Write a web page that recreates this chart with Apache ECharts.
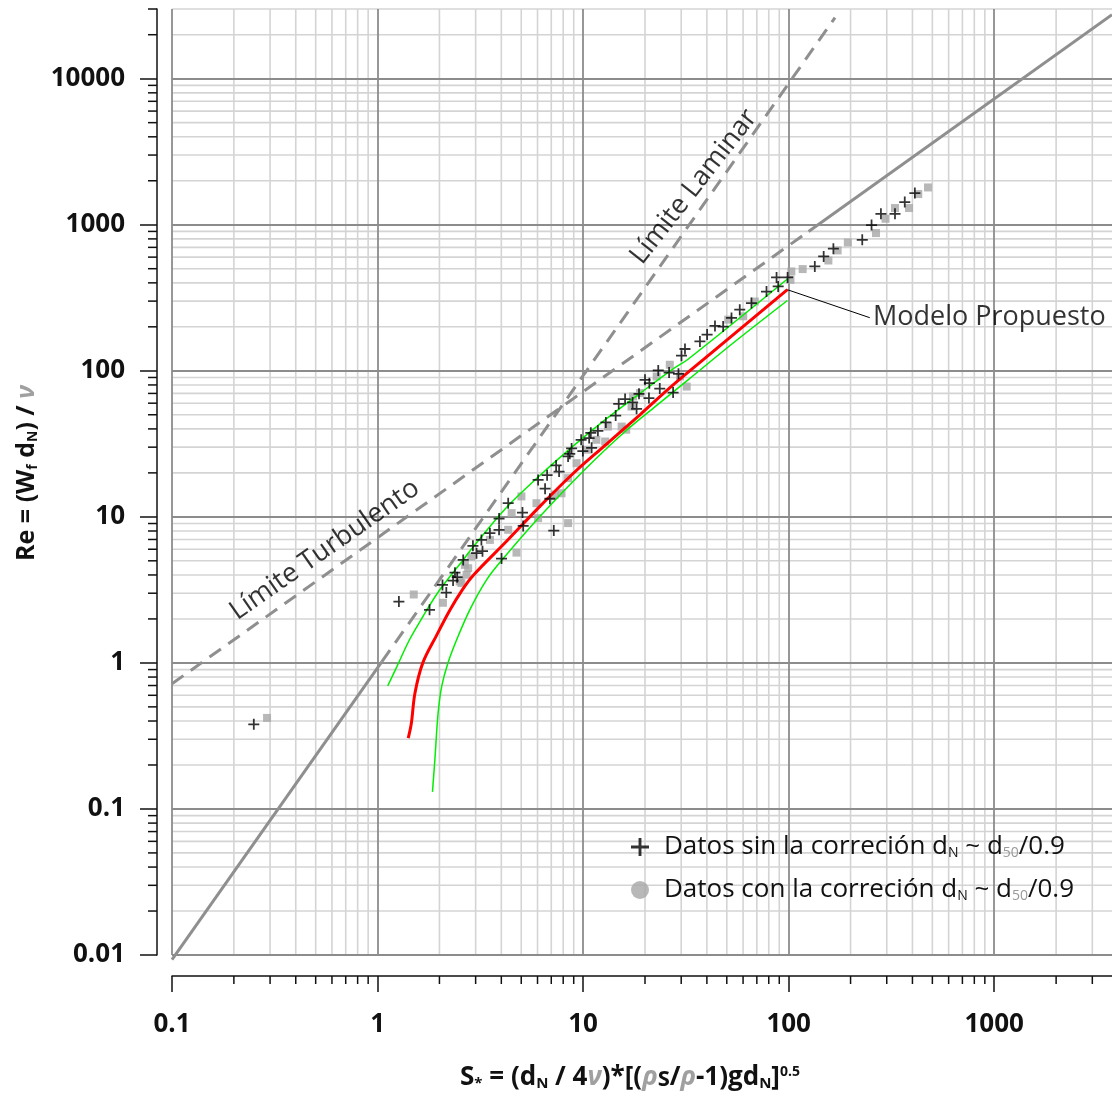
<!DOCTYPE html>
<html>
<head>
<meta charset="utf-8">
<script src="https://cdn.jsdelivr.net/npm/echarts@6/dist/echarts.min.js"></script>
<style>
  html, body { margin: 0; padding: 0; background: #fff; }
  #chart { width: 1112px; height: 1099px; }
</style>
</head>
<body>
<div id="chart"></div>
<script>
// axis ranges and tick labels
const xMin = 0.1, xMax = 3740;
const yMin = 0.01, yMax = 30000;
const xTickLabels = ['0.1', '1', '10', '100', '1000'];
const yTickLabels = ['0.01', '0.1', '1', '10', '100', '1000', '10000'];
const minorSteps = [2, 3, 4, 5, 6, 7, 8, 9];

// Datos sin la correción (+)
const sinData = [
  [0.25, 0.38], [1.27, 2.63], [1.79, 2.31], [2.07, 3.42], [2.16, 3.03], [2.33, 3.66], [2.38, 4.15],
  [2.44, 3.86], [2.61, 5.07], [2.91, 6.33], [3.03, 5.64], [3.24, 5.82], [3.20, 6.95], [3.52, 7.73],
  [3.90, 8.15], [3.90, 9.73], [4.32, 12.4], [4.01, 5.18], [5.11, 8.67], [5.07, 10.7], [7.20, 8.06],
  [6.89, 13.3], [6.53, 15.6], [6.04, 17.9], [6.68, 19.3], [7.39, 22.5], [7.64, 20.4], [8.45, 25.9],
  [8.79, 29.4], [8.61, 27.0], [9.78, 33.7], [9.97, 28.2], [10.7, 34.6], [10.9, 37.6], [11.0, 29.7],
  [11.8, 38.8], [12.9, 44.3], [14.4, 49.4], [14.9, 59.4], [16.0, 64.0], [17.4, 60.7], [18.2, 54.9],
  [18.7, 69.5], [20.0, 86.7], [21.0, 82.3], [20.9, 65.0], [23.2, 100.5], [23.6, 75.6], [26.2, 97.3],
  [27.4, 71.0], [29.1, 95.3], [30.1, 127], [31.3, 141], [37.0, 159], [40.1, 177], [43.8, 203],
  [48.0, 201], [52.7, 230], [57.8, 262], [65.9, 291], [78.0, 349], [88.9, 378], [87.3, 436],
  [98.8, 436], [134, 518], [148, 607], [165, 685], [228, 789], [253, 995], [281, 1189], [329, 1189],
  [367, 1430], [411, 1648]
];

// Datos con la correción (gray squares)
const conData = [
  [0.29, 0.42], [1.50, 2.94], [2.08, 2.58], [2.56, 3.52], [2.51, 3.61], [2.71, 4.01], [2.76, 4.45],
  [2.66, 4.69], [2.86, 5.35], [3.52, 6.95], [4.32, 8.15], [4.74, 5.69], [4.49, 10.6], [5.01, 13.8],
  [5.93, 12.4], [6.04, 9.8], [8.45, 9.06], [7.28, 14.2], [7.85, 14.5], [8.45, 18.4], [9.29, 23.3],
  [10.4, 28.8], [11.6, 33.7], [12.8, 32.8], [13.2, 41.5], [15.4, 41.5], [16.2, 39.5], [17.2, 56.9],
  [17.5, 66.7], [18.9, 70.4], [22.8, 91.4], [26.4, 110], [29.6, 91.4], [31.9, 78.0], [50.8, 224],
  [60.1, 236], [68.4, 298], [102, 420], [103, 479], [117, 497], [156, 569], [173, 667], [194, 756],
  [266, 877], [296, 1099], [329, 1301], [385, 1301], [427, 1622], [476, 1800]
];

// Modelo propuesto (red) and its band (green)
const modelCurve = [
  [1.41, 0.305], [1.46, 0.386], [1.52, 0.62], [1.66, 1.0], [1.94, 1.55], [2.25, 2.3], [2.56, 3.1],
  [2.91, 3.95], [4.24, 6.8], [6.16, 11.8], [8.94, 19.8], [13.0, 31.5], [18.9, 50], [27.4, 80],
  [41.4, 130], [98.6, 359]
];
const upperBand = [
  [1.12, 0.695], [1.24, 0.94], [1.43, 1.44], [1.66, 2.07], [1.94, 2.95], [2.25, 3.9], [2.61, 5.07],
  [2.91, 6.2], [4.24, 11.6], [6.16, 19.2], [8.94, 30.5], [13.0, 47], [18.9, 70], [27.4, 103],
  [32.4, 120], [98.6, 425]
];
const lowerBand = [
  [1.85, 0.131], [1.90, 0.217], [1.97, 0.452], [2.05, 0.689], [2.20, 1.0], [2.46, 1.51], [2.81, 2.31],
  [3.39, 3.70], [4.0, 5.0], [6.16, 10.05], [10.0, 20.5], [15.7, 37.5], [22.8, 58.0], [32.4, 86.7],
  [53.7, 155], [98.6, 303]
];

// limit lines
const laminarSolid = [[0.1, 0.0093], [1.05, 1.02]];
const laminarDashed = [[1.05, 1.02], [168, 26200]];
const turbulentDashed = [[0.1, 0.72], [125, 900]];
const turbulentSolid = [[125, 900], [3740, 27400]];
const modelLeader = [[98.6, 359], [248, 231]];

const annotations = [
  { text: 'Límite Turbulento', x: 0.553, y: 5.94, angle: 35, align: 'center' },
  { text: 'Límite Laminar', x: 34.6, y: 1820, angle: 52, align: 'center' },
  { text: 'Modelo Propuesto', x: 257, y: 231, angle: 0, align: 'left' }
];

const sinName = 'Datos sin la correción dN ~ d50/0.9';
const conName = 'Datos con la correción dN ~ d50/0.9';

const xMinorValues = [];
xTickLabels.forEach(d => minorSteps.forEach(m => { const v = +d * m; if (v < xMax) xMinorValues.push(v); }));
const yMinorValues = [];
yTickLabels.forEach(d => minorSteps.forEach(m => { const v = +d * m; if (v <= yMax) yMinorValues.push(v); }));

const FONT = '"Open Sans", "Liberation Sans", sans-serif';
const plusPath = 'path://M4.2,0h1.6v4.2h4.2v1.6h-4.2v4.2h-1.6v-4.2h-4.2v-1.6h4.2z';

function tickFormatter(labels) {
  return v => {
    const l = labels.find(t => Math.abs(Math.log10(+t) - Math.log10(v)) < 1e-6);
    return l || '';
  };
}

function minorSeries(dir) {
  const vals = dir === 'x' ? xMinorValues : yMinorValues;
  return {
    type: 'custom',
    silent: true,
    clip: false,
    z: -1,
    data: vals.map(v => dir === 'x' ? [v, yMin] : [xMin, v]),
    renderItem(params, api) {
      const grid = '#d4d4d4';
      if (dir === 'x') {
        const v = api.value(0);
        const b = api.coord([v, yMin]);
        const t = api.coord([v, yMax]);
        return { type: 'group', children: [
          { type: 'line', shape: { x1: b[0], y1: t[1], x2: b[0], y2: b[1] }, style: { stroke: grid, lineWidth: 1.6 } },
          { type: 'line', shape: { x1: b[0], y1: b[1] + 21, x2: b[0], y2: b[1] + 29 }, style: { stroke: '#111', lineWidth: 1.5 } }
        ] };
      }
      const v = api.value(1);
      const l = api.coord([xMin, v]);
      const r = api.coord([xMax, v]);
      return { type: 'group', children: [
        { type: 'line', shape: { x1: l[0], y1: l[1], x2: r[0], y2: l[1] }, style: { stroke: grid, lineWidth: 1.6 } },
        { type: 'line', shape: { x1: l[0] - 15, y1: l[1], x2: l[0] - 24, y2: l[1] }, style: { stroke: '#111', lineWidth: 1.5 } }
      ] };
    }
  };
}

function limitLine(data, dashed) {
  return {
    type: 'line', data, symbol: 'none', clip: false, silent: true, z: 2,
    lineStyle: { color: '#8f8f8f', width: 3, type: dashed ? [14, 9] : 'solid' }
  };
}

function curve(data, color, width) {
  return {
    type: 'line', data, symbol: 'none', smooth: 0.35, z: 4, silent: true,
    lineStyle: { color, width }
  };
}

const subStyle = { lineHeight: 12, padding: [11, 0, 0, 0], verticalAlign: 'bottom' };

const chart = echarts.init(document.getElementById('chart'));
chart.setOption({
  backgroundColor: '#fff',
  animation: false,
  textStyle: { fontFamily: FONT },
  grid: { left: 172, right: 0, top: 9, bottom: 144, containLabel: false },
  legend: {
    orient: 'vertical',
    left: 626,
    top: 829,
    itemWidth: 26,
    itemHeight: 18,
    itemGap: 17,
    data: [
      { name: sinName, icon: plusPath, itemStyle: { color: '#000' } },
      { name: conName, icon: 'circle', itemStyle: { color: '#a6a6a6' } }
    ],
    formatter: name => name === sinName
      ? 'Datos sin la correción d{sub|N} ~ d{gsub|50}/0.9'
      : 'Datos con la correción d{sub|N} ~ d{gsub|50}/0.9',
    textStyle: {
      fontFamily: FONT, fontSize: 26, color: '#111', padding: [0, 0, 0, 6],
      rich: {
        sub: Object.assign({}, subStyle, { fontFamily: FONT, color: '#111', fontSize: 14 }),
        gsub: Object.assign({}, subStyle, { fontFamily: FONT, color: '#999', fontSize: 14 })
      }
    }
  },
  xAxis: {
    type: 'log',
    logBase: 10,
    min: xMin,
    max: xMax,
    offset: 21,
    z: 1,
    axisLine: { show: true, lineStyle: { color: '#111', width: 1.5 } },
    axisTick: { show: true, inside: false, length: 16, lineStyle: { color: '#111', width: 1.5 } },
    minorTick: { show: false },
    axisLabel: {
      margin: 36, fontFamily: FONT, fontWeight: 'bold', fontSize: 26, color: '#111',
      formatter: tickFormatter(xTickLabels), showMaxLabel: false
    },
    splitLine: { show: true, showMaxLine: false, lineStyle: { color: '#8c8c8c', width: 1.8 } },
    name: 'S{sub|*} = (d{sub|N} / 4{g|ν})*[({g|ρ}{s|S}/{g|ρ}-1)gd{sub|N}]{sup|0.5}',
    nameLocation: 'middle',
    nameGap: 89,
    nameTextStyle: {
      fontFamily: FONT, fontWeight: 'bold', fontSize: 26, color: '#111', padding: [0, 24, 0, 0],
      rich: {
        sub: Object.assign({}, subStyle, { fontFamily: FONT, fontWeight: 'bold', color: '#111', fontSize: 15 }),
        s: { fontFamily: FONT, fontWeight: 'bold', color: '#111', fontSize: 22, lineHeight: 22, padding: [5, 0, 0, 0], verticalAlign: 'bottom' },
        sup: { fontFamily: FONT, fontWeight: 'bold', color: '#111', fontSize: 14, lineHeight: 14, padding: [0, 0, 12, 0], verticalAlign: 'top' },
        g: { fontFamily: FONT, fontStyle: 'italic', color: '#a0a0a0', fontSize: 26 }
      }
    }
  },
  yAxis: {
    type: 'log',
    logBase: 10,
    min: yMin,
    max: yMax,
    offset: 15,
    z: 1,
    axisLine: { show: true, lineStyle: { color: '#111', width: 1.5 } },
    axisTick: { show: true, inside: false, length: 17, lineStyle: { color: '#111', width: 1.5 } },
    minorTick: { show: false },
    axisLabel: {
      margin: 32, fontFamily: FONT, fontWeight: 'bold', fontSize: 26, color: '#111',
      formatter: tickFormatter(yTickLabels), showMaxLabel: false
    },
    splitLine: { show: true, showMaxLine: false, lineStyle: { color: '#8c8c8c', width: 1.8 } },
    name: 'Re = (W{sub|f} d{sub|N}) / {g|ν}',
    nameLocation: 'middle',
    nameRotate: 90,
    nameGap: 115,
    nameTextStyle: {
      fontFamily: FONT, fontWeight: 'bold', fontSize: 25, color: '#111', padding: [0, 0, 0, 18],
      rich: {
        sub: Object.assign({}, subStyle, { fontFamily: FONT, fontWeight: 'bold', color: '#111', fontSize: 14 }),
        g: { fontFamily: FONT, fontStyle: 'italic', color: '#a0a0a0', fontSize: 25 }
      }
    }
  },
  series: [
    minorSeries('x'),
    minorSeries('y'),
    limitLine(laminarSolid, false),
    limitLine(laminarDashed, true),
    limitLine(turbulentDashed, true),
    limitLine(turbulentSolid, false),
    {
      name: conName, type: 'scatter', data: conData, symbol: 'rect', symbolSize: 8, z: 3,
      itemStyle: { color: '#a6a6a6' }
    },
    curve(upperBand, '#00ee00', 1.5),
    curve(lowerBand, '#00ee00', 1.5),
    curve(modelCurve, '#ff0000', 3),
    {
      type: 'line', data: modelLeader, symbol: 'none', z: 4, silent: true,
      lineStyle: { color: '#000', width: 1 }
    },
    {
      name: sinName, type: 'scatter', data: sinData, symbol: plusPath, symbolSize: 11, z: 5,
      itemStyle: { color: '#000' }
    },
    {
      type: 'scatter', silent: true, z: 6, symbolSize: 1,
      itemStyle: { color: 'transparent' },
      data: annotations.map(a => ({
        value: [a.x, a.y],
        label: {
          show: true, position: 'inside', formatter: a.text, rotate: a.angle, align: a.align,
          fontFamily: FONT, fontSize: 27, fontWeight: 500, color: '#000'
        }
      }))
    }
  ]
});
</script>
</body>
</html>
